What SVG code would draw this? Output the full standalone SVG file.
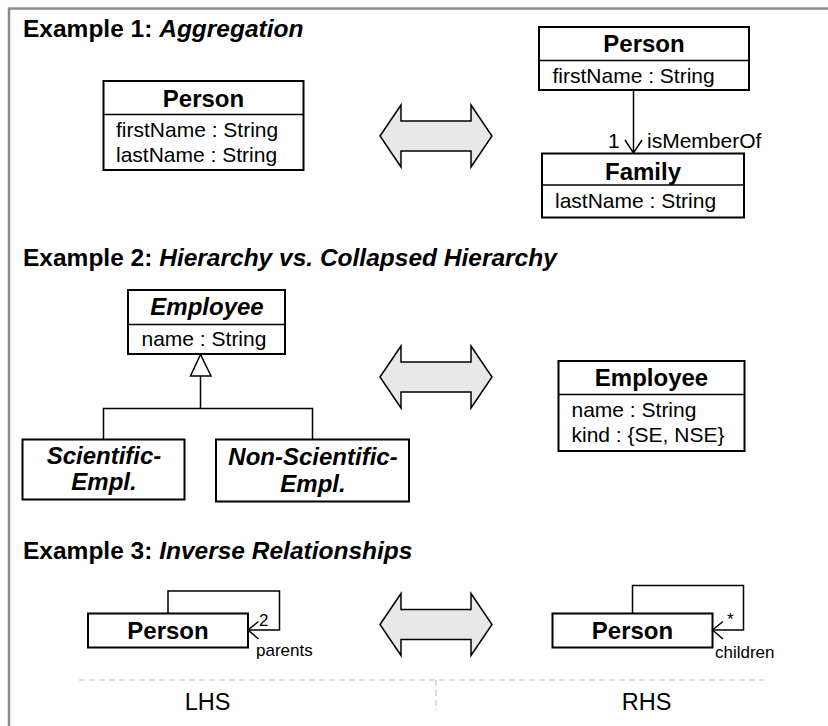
<svg xmlns="http://www.w3.org/2000/svg" width="828" height="726" viewBox="0 0 828 726">
<defs>
<style>
text{font-family:"Liberation Sans",Arial,sans-serif;fill:#000}
.title{font-size:24.5px;font-weight:bold}
.it{font-style:italic}
.cls{font-size:24px;font-weight:bold;text-anchor:middle}
.attr{font-size:21px}
.small{font-size:17px}
.box{fill:#fff;stroke:#000;stroke-width:2}
.ln{fill:none;stroke:#000;stroke-width:1.5}
.dbl{fill:#e8e8e8;stroke:#000;stroke-width:1.5;stroke-linejoin:miter}
.dash{fill:none;stroke:#d4d4d4;stroke-width:1.5;stroke-dasharray:6 4}
.side{font-size:23.5px;text-anchor:middle}
</style>
<path id="dblarrow" d="M0,0 L21,-31 L21,-15 L91,-15 L91,-31 L112,0 L91,31 L91,15 L21,15 L21,31 Z"/>
</defs>
<rect width="828" height="726" fill="#fff"/>
<path d="M9,726 L9,8.5 L828,8.5" fill="none" stroke="#8a8a8a" stroke-width="2.5"/>

<text class="title" x="23" y="37">Example 1: <tspan class="it">Aggregation</tspan></text>
<text class="title" x="23" y="266">Example 2: <tspan class="it">Hierarchy vs. Collapsed Hierarchy</tspan></text>
<text class="title" x="23" y="559">Example 3: <tspan class="it">Inverse Relationships</tspan></text>

<g id="arrows">
<use href="#dblarrow" class="dbl" x="380" y="136"/>
<use href="#dblarrow" class="dbl" x="380" y="377"/>
<use href="#dblarrow" class="dbl" x="380" y="624.5"/>
</g>

<g id="ex1-person-lhs">
<rect class="box" x="103.5" y="81" width="200" height="89"/>
<line class="ln" x1="103.5" y1="114.5" x2="303.5" y2="114.5" stroke-width="2"/>
<text class="cls" x="203.5" y="107">Person</text>
<text class="attr" x="116" y="137">firstName : String</text>
<text class="attr" x="116" y="162">lastName : String</text>
</g>

<g id="ex1-person-rhs">
<rect class="box" x="539" y="27" width="210" height="63"/>
<line class="ln" x1="539" y1="60.5" x2="749" y2="60.5" stroke-width="2"/>
<text class="cls" x="644" y="52">Person</text>
<text class="attr" x="552.5" y="82.5">firstName : String</text>
</g>

<g id="ex1-family">
<rect class="box" x="542" y="153.5" width="202" height="64"/>
<line class="ln" x1="542" y1="185" x2="744" y2="185" stroke-width="2"/>
<text class="cls" x="643" y="180">Family</text>
<text class="attr" x="555" y="208">lastName : String</text>
</g>

<g id="ex2-employee-abstract">
<rect class="box" x="128" y="290" width="157" height="64"/>
<line class="ln" x1="128" y1="324.5" x2="285" y2="324.5" stroke-width="2"/>
<text class="cls it" x="207" y="315">Employee</text>
<text class="attr" x="141.5" y="346">name : String</text>
</g>

<g id="ex2-scientific">
<rect class="box" x="22.5" y="439.5" width="162" height="60"/>
<text class="cls it" x="104" y="464">Scientific-</text>
<text class="cls it" x="104" y="489.5">Empl.</text>
</g>

<g id="ex2-nonscientific">
<rect class="box" x="216" y="439.5" width="193" height="62"/>
<text class="cls it" x="313" y="465">Non-Scientific-</text>
<text class="cls it" x="313" y="491.5">Empl.</text>
</g>

<g id="ex2-employee">
<rect class="box" x="558.5" y="361" width="186" height="90"/>
<line class="ln" x1="558.5" y1="394.5" x2="744.5" y2="394.5" stroke-width="2"/>
<text class="cls" x="651.5" y="386">Employee</text>
<text class="attr" x="571.5" y="416.5">name : String</text>
<text class="attr" x="571.5" y="442">kind : {SE, NSE}</text>
</g>

<g id="ex3-person-lhs">
<rect class="box" x="88" y="613.5" width="160" height="34"/>
<text class="cls" x="168" y="638.5">Person</text>
</g>

<g id="ex3-person-rhs">
<rect class="box" x="552.5" y="613.5" width="160" height="34"/>
<text class="cls" x="632.5" y="638.5">Person</text>
</g>

<g id="connectors">
<line class="ln" x1="633.5" y1="90" x2="633.5" y2="153"/>
<path class="ln" d="M625,140 L633.5,153 L642,140"/>
<text class="attr" x="608" y="147.5">1</text>
<text class="attr" x="647" y="147.5">isMemberOf</text>

<path class="ln" d="M200.5,354.5 L190.5,376 L211,376 Z" fill="#fff"/>
<path class="ln" d="M200.5,376 L200.5,408.5 M103.5,439.5 L103.5,408.5 L312.5,408.5 L312.5,439.5"/>

<path class="ln" d="M168,613.5 L168,591 L279.5,591 L279.5,630 L248,630"/>
<path class="ln" d="M258.5,621.5 L248,630 L258.5,639"/>
<text class="small" x="259" y="626">2</text>
<text class="small" x="256" y="656">parents</text>

<path class="ln" d="M632.5,613.5 L632.5,585.5 L743.5,585.5 L743.5,630 L712.5,630"/>
<path class="ln" d="M723,621.5 L712.5,630 L723,639"/>
<text class="small" x="727" y="625">*</text>
<text class="small" x="715" y="658">children</text>
</g>

<g id="sides">
<path class="dash" d="M79,680 L764,680 M436,680 L436,711"/>
<text class="side" x="207.5" y="710">LHS</text>
<text class="side" x="646.5" y="710">RHS</text>
</g>
</svg>
